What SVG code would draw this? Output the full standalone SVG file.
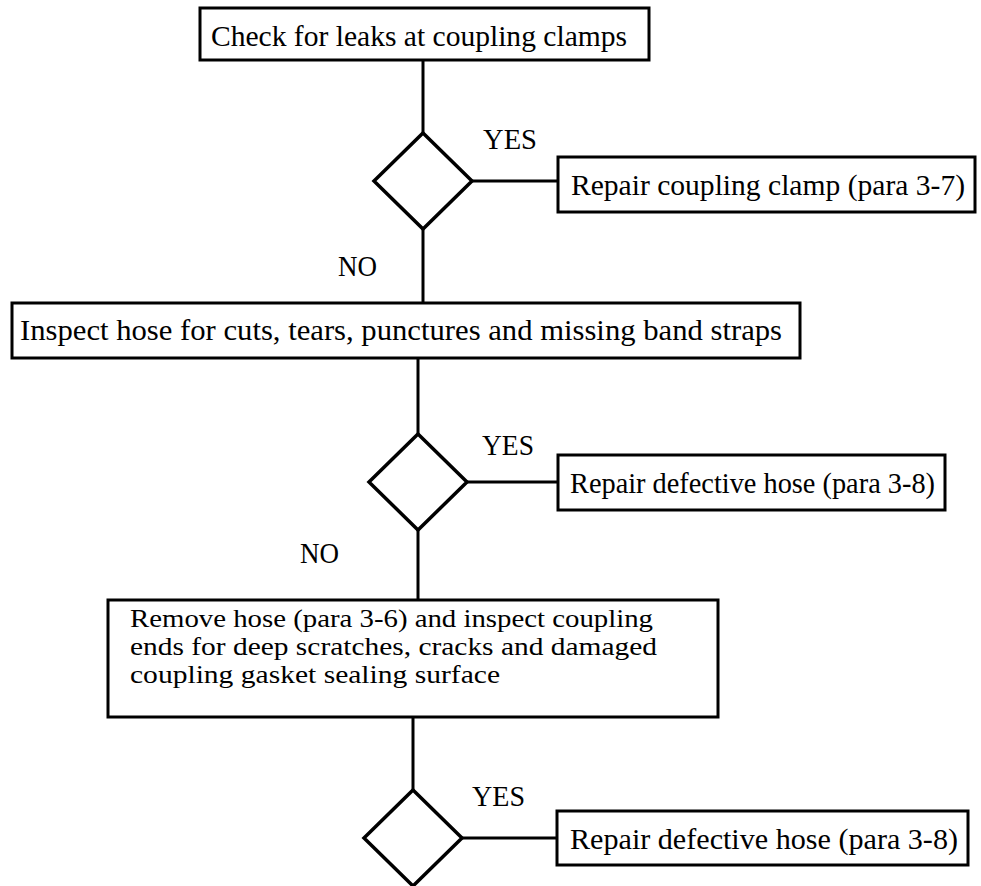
<svg xmlns="http://www.w3.org/2000/svg" width="981" height="886" viewBox="0 0 981 886">
<style>
.box{fill:#fff;stroke:#000;stroke-width:3}
.dia{fill:#fff;stroke:#000;stroke-width:3.5;stroke-linejoin:miter}
.ln{stroke:#000;stroke-width:3;fill:none}
text{font-family:"Liberation Serif","Times New Roman",serif;font-size:30px;fill:#000}
.ml{font-size:25px}
</style>
<rect width="981" height="886" fill="#fff"/>
<g id="connectors">
<line class="ln" x1="423" y1="60" x2="423" y2="133"/>
<line class="ln" x1="472" y1="181" x2="558" y2="181"/>
<line class="ln" x1="423" y1="229" x2="423" y2="303"/>
<line class="ln" x1="418" y1="358" x2="418" y2="434"/>
<line class="ln" x1="467" y1="482" x2="558" y2="482"/>
<line class="ln" x1="418" y1="530" x2="418" y2="600"/>
<line class="ln" x1="413" y1="717" x2="413" y2="790"/>
<line class="ln" x1="462" y1="838" x2="557" y2="838"/>
<text x="483" y="149" textLength="54" lengthAdjust="spacingAndGlyphs">YES</text>
<text x="338" y="276" textLength="39" lengthAdjust="spacingAndGlyphs">NO</text>
<text x="482" y="455" textLength="52" lengthAdjust="spacingAndGlyphs">YES</text>
<text x="300" y="563" textLength="39" lengthAdjust="spacingAndGlyphs">NO</text>
<text x="472" y="806" textLength="53" lengthAdjust="spacingAndGlyphs">YES</text>
</g>
<g id="n1">
<rect class="box" x="200" y="8" width="449" height="52"/>
<text x="211" y="46" textLength="416" lengthAdjust="spacingAndGlyphs">Check for leaks at coupling clamps</text>
</g>
<g id="d1">
<polygon class="dia" points="423,133 472,181 423,229 374,181"/>
</g>
<g id="n2">
<rect class="box" x="558" y="157" width="417" height="55"/>
<text x="571" y="195" textLength="394" lengthAdjust="spacingAndGlyphs">Repair coupling clamp (para 3-7)</text>
</g>
<g id="n3">
<rect class="box" x="12" y="303" width="788" height="55"/>
<text x="20" y="340" textLength="762" lengthAdjust="spacingAndGlyphs">Inspect hose for cuts, tears, punctures and missing band straps</text>
</g>
<g id="d2">
<polygon class="dia" points="418,434 467,482 418,530 369,482"/>
</g>
<g id="n4">
<rect class="box" x="558" y="455" width="387" height="55"/>
<text x="570" y="493" textLength="365" lengthAdjust="spacingAndGlyphs">Repair defective hose (para 3-8)</text>
</g>
<g id="n5">
<rect class="box" x="108" y="600" width="610" height="117"/>
<text class="ml" x="130" y="627" textLength="523" lengthAdjust="spacingAndGlyphs">Remove hose (para 3-6) and inspect coupling</text>
<text class="ml" x="130" y="655" textLength="527" lengthAdjust="spacingAndGlyphs">ends for deep scratches, cracks and damaged</text>
<text class="ml" x="130" y="683" textLength="370" lengthAdjust="spacingAndGlyphs">coupling gasket sealing surface</text>
</g>
<g id="d3">
<polygon class="dia" points="413,790 462,838 413,886 364,838"/>
</g>
<g id="n6">
<rect class="box" x="557" y="811" width="411" height="54"/>
<text x="570" y="849" textLength="388" lengthAdjust="spacingAndGlyphs">Repair defective hose (para 3-8)</text>
</g>
</svg>
